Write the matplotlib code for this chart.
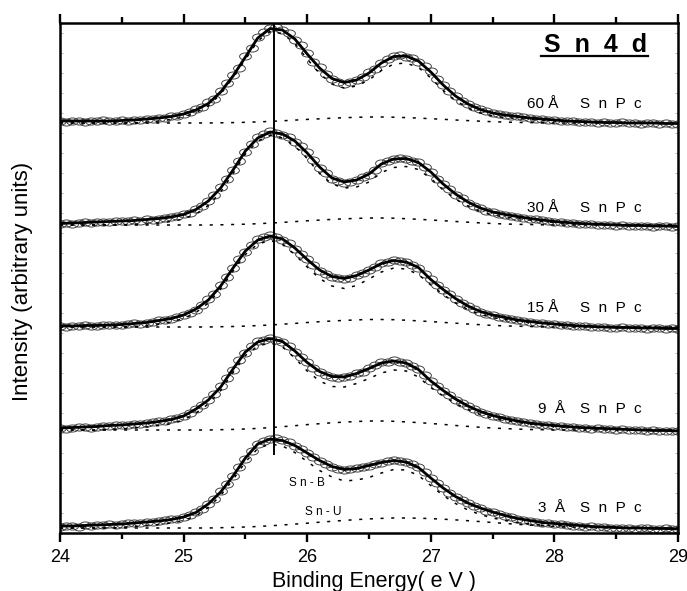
import numpy as np
import matplotlib
matplotlib.use("Agg")
import matplotlib.pyplot as plt
from matplotlib.lines import Line2D
from matplotlib.path import Path
from matplotlib.ticker import MultipleLocator, NullLocator
from matplotlib.transforms import IdentityTransform

plt.rcParams["font.family"] = ["Liberation Sans", "DejaVu Sans"]

# binding energy grids (eV): fit and components every 0.1 eV, measured points every 0.05 eV
energy = np.linspace(24.0, 29.0, 51)
energy_pts = np.linspace(24.0, 29.0, 101)

# SnPc coverage (Angstrom), bottom to top, and vertical stacking offsets (arb. units)
thickness = ["3", "9", "15", "30", "60"]
offsets = [5, 103, 206, 308, 410]

# ---- 3 A ----
fit_3 = [2, 2, 2.5, 3, 3.5, 4, 5, 6, 7, 8.5,
         11, 15.5, 24, 36, 52, 70, 84, 89, 87.5, 82.5,
         75, 67.5, 61.5, 58.5, 59.5, 62.5, 65.5, 67.5, 66, 60.5,
         50, 40, 31.5, 25, 20, 16, 12.5, 9.5, 7.5, 5.5,
         4.5, 3.5, 2.5, 1.5, 1, 0.5, 0, 0, -0.5, -0.5,
         -1]
snb_3 = [0, 0, 0, 0, 0, 0.5, 1.5, 2.5, 3.5, 5,
         7.5, 12, 20.5, 32.5, 48.5, 66, 79.5, 84, 82, 75.5,
         66.5, 57.5, 51, 47, 48, 50.5, 55, 58.5, 58, 52.5,
         42.5, 32.5, 24.5, 18, 13.5, 10, 7.5, 5.5, 4, 3,
         2.5, 2, 1.5, 1, 0.5, 0, 0, 0, 0, 0,
         0]
snu_3 = [0, 0, 0, 0, 0, 0, 0, 0, 0, 0,
         0, 0, 0, 0.3, 0.6, 1.0, 1.5, 2.2, 3.0, 3.9,
         4.8, 5.8, 6.7, 7.6, 8.4, 9.1, 9.6, 10.0, 10.0, 9.8,
         9.4, 8.8, 8.1, 7.3, 6.4, 5.5, 4.6, 3.7, 2.9, 2.2,
         1.6, 1.1, 0.7, 0.4, 0.2, 0, 0, 0, 0, 0,
         0]
data_3 = [1.5, 2.5, 2, 1.5, 3, 2.5, 3.5, 3, 4, 3.5,
          4.5, 5, 5.5, 5, 6.5, 6, 7.5, 8, 9, 9.5,
          11.5, 13, 16, 19.5, 24.5, 29, 37, 44, 52.5, 61,
          69, 77.5, 84, 87.5, 89.5, 90, 88, 86, 82, 79.5,
          75.5, 71, 67, 64, 61, 59.5, 58, 59, 60, 61,
          62, 64, 65, 67, 68, 67.5, 66.5, 64, 61, 56,
          50.5, 45, 40.5, 35, 31, 28, 25.5, 22, 20.5, 17.5,
          16.5, 14, 12.5, 11, 9, 8.5, 7.5, 6, 5.5, 5,
          4, 4, 3.5, 2.5, 2.5, 1.5, 2, 1, 1, 0.5,
          0.5, 0, 0.5, -0.5, 0, 0, -1, -0.5, 0, -0.5,
          -1]

# ---- 9 A ----
fit_9 = [2, 2.5, 3, 3.5, 4.5, 5, 6, 7, 8.5, 10.5,
         14, 21, 30, 43, 61, 78, 88, 91.5, 88.5, 79,
         67.5, 58.5, 53.5, 53, 56.5, 61.5, 67, 69, 67, 60.5,
         49, 39.5, 31, 24, 18.5, 14.5, 11.5, 9, 7, 5.5,
         4.5, 3.5, 2.5, 2, 1.5, 1, 0.5, 0, -0.5, -0.5,
         -1]
snb_9 = [0, 0, 0, 0, 0.5, 1, 2, 3, 4.5, 6.5,
         10, 17, 26, 39.5, 57.5, 74.5, 84, 87, 83, 72,
         59, 49, 43.5, 43, 46.5, 51.5, 57, 60, 59, 53,
         42.5, 34, 26.5, 20.5, 15.5, 12, 9.5, 7.5, 6, 4.5,
         3.5, 2.5, 2, 1.5, 1, 0.5, 0, 0, 0, 0,
         0]
snu_9 = [0, 0, 0, 0, 0, 0, 0, 0, 0, 0,
         0, 0, 0, 0.3, 0.6, 1.0, 1.6, 2.4, 3.3, 4.3,
         5.4, 6.3, 7.2, 7.9, 8.5, 9.0, 9.0, 8.7, 8.1, 7.4,
         6.5, 5.6, 4.5, 3.6, 2.7, 2.0, 1.4, 0.9, 0.5, 0.3,
         0, 0, 0, 0, 0, 0, 0, 0, 0, 0,
         0]
data_9 = [2.5, 1.5, 2, 3, 3.5, 2.5, 3, 4.5, 4, 5,
          5.5, 5, 6.5, 6, 7, 8, 9, 9, 11, 12,
          14.5, 17, 21.5, 25, 30.5, 36, 44, 52, 60, 70,
          77, 84, 89, 90, 92.5, 90.5, 88, 84, 78.5, 73,
          68, 62, 58, 55, 53, 52, 53.5, 54, 57, 58.5,
          62, 65, 68, 68, 70, 68.5, 67, 64, 61, 55,
          49.5, 44, 39, 35.5, 30.5, 27.5, 24.5, 21, 18, 16.5,
          14.5, 13, 11, 10.5, 9, 8, 7.5, 6, 5, 5,
          4, 4, 3, 3, 2.5, 2, 1.5, 2, 1, 1.5,
          0.5, 1, 0, 0.5, 0, -0.5, 0, -1, -0.5, -0.5,
          -1]

# ---- 15 A ----
fit_15 = [1, 1, 1.5, 1.5, 2, 2.5, 3.5, 4.5, 6.5, 8.5,
          12, 18, 27, 41, 59, 76, 87, 91, 88, 79,
          67.5, 57, 50.5, 48.5, 51.5, 57, 63.5, 66.5, 65, 59.5,
          47.5, 37.5, 28.5, 21, 15.5, 12, 9.5, 7, 5.5, 4,
          3, 2, 1, 0.5, 0, -0.5, -0.5, -1, -1, -1.5,
          -1.5]
snb_15 = [0, 0, 0, 0, 0, 0, 0.5, 1.5, 3, 5,
          8.5, 14.5, 24, 38, 56, 72.5, 83, 86.5, 82.5, 72.5,
          60, 48.5, 41, 38.5, 41.5, 48, 55, 59, 58, 52.5,
          42, 32.5, 24, 17.5, 12.5, 9.5, 7.5, 5.5, 4.5, 3.5,
          2.5, 1.5, 1, 0.5, 0, 0, 0, 0, 0, 0,
          0]
snu_15 = [0, 0, 0, 0, 0, 0, 0, 0, 0, 0,
          0, 0, 0, 0.3, 0.5, 0.9, 1.4, 2.0, 2.8, 3.6,
          4.5, 5.3, 6.0, 6.6, 7.1, 7.5, 7.5, 7.3, 6.8, 6.1,
          5.4, 4.6, 3.8, 3.0, 2.3, 1.6, 1.1, 0.8, 0.5, 0.2,
          0, 0, 0, 0, 0, 0, 0, 0, 0, 0,
          0]
data_15 = [1.5, 0.5, 1, 1.5, 2, 1, 1.5, 2, 2.5, 2,
           2, 3, 4, 3.5, 4, 5.5, 7, 7, 8, 10,
           12.5, 14.5, 17.5, 22, 28, 33.5, 42, 50, 59.5, 68,
           75, 82, 88, 90, 92, 90, 87.5, 84, 78, 73.5,
           68, 62, 56.5, 53, 50, 49, 48, 49.5, 52, 54,
           57.5, 60, 64, 65, 67, 66.5, 65.5, 62.5, 59, 53,
           48, 42.5, 37, 33, 28, 24, 21.5, 18, 15.5, 13.5,
           12.5, 10.5, 9.5, 8, 7, 6.5, 5, 4.5, 4, 3.5,
           3, 2, 2.5, 1.5, 1, 1, 0.5, 0, 0.5, -0.5,
           -0.5, 0, -1, -0.5, -1, -1.5, -0.5, -1, -1.5, -1,
           -1.5]

# ---- 30 A ----
fit_30 = [1.5, 2, 2.5, 3, 3.5, 4, 4.5, 5.5, 6.5, 8,
          10.5, 15.5, 24, 37, 55, 74, 87, 93, 91, 84,
          72, 58, 47, 43, 45, 51, 61, 66, 66.5, 62.5,
          53, 41, 31, 23, 17, 13, 10.5, 8.5, 6.5, 5,
          3.5, 2.5, 1.5, 1, 0.5, 0, -0.5, -0.5, -1, -1,
          -1.5]
snb_30 = [0, 0, 0, 0, 0, 0, 0.5, 1, 2, 3.5,
          6, 11, 19.5, 33, 51.5, 71, 84, 89.5, 87, 79,
          66.5, 51.5, 41, 37, 38, 43, 52.5, 57.5, 58.5, 55.5,
          46.5, 35, 26, 19, 13.5, 10, 8, 6.5, 5, 3.5,
          2.5, 1.5, 1, 0.5, 0, 0, 0, 0, 0, 0,
          0]
snu_30 = [0, 0, 0, 0, 0, 0, 0, 0, 0, 0,
          0, 0, 0, 0.2, 0.5, 0.8, 1.3, 1.9, 2.6, 3.4,
          4.2, 4.9, 5.6, 6.2, 6.6, 7.0, 7.0, 6.8, 6.3, 5.7,
          5.0, 4.3, 3.5, 2.8, 2.1, 1.5, 1.0, 0.7, 0.5, 0.2,
          0, 0, 0, 0, 0, 0, 0, 0, 0, 0,
          0]
data_30 = [1, 2, 1.5, 2.5, 3, 2, 3.5, 3, 3, 4,
           4.5, 4, 5, 4.5, 6, 5.5, 6, 7.5, 8.5, 9,
           11, 12.5, 16, 19, 24.5, 30.5, 38, 46, 55.5, 64,
           73, 81.5, 88, 91, 94, 92.5, 90, 88, 83, 79,
           73, 65, 57.5, 52, 46, 44.5, 42.5, 43, 45.5, 48,
           50.5, 55, 62, 64.5, 66.5, 67.5, 66, 64.5, 63, 58,
           53.5, 46.5, 41.5, 36, 30, 27, 22.5, 19.5, 17.5, 14.5,
           13.5, 11.5, 10, 9.5, 8, 7.5, 6, 6, 5, 4,
           3, 3, 2, 2, 1.5, 1.5, 1, 0.5, 0, 0.5,
           -0.5, 0, -0.5, -1, -0.5, -1, -1.5, -0.5, -1, -1.5,
           -1]

# ---- 60 A ----
fit_60 = [2, 2, 2, 2, 2, 2.5, 3, 4, 5, 6.5,
          9, 13, 19.5, 31, 47, 66, 85, 94.5, 93, 84,
          69, 55, 44.5, 40.5, 43, 50, 60, 66.5, 67, 62,
          51, 38, 27, 19, 13.5, 10, 8, 6.5, 5, 4,
          3, 2, 1.5, 1, 0.5, 0.5, 0, 0, 0, -0.5,
          -0.5]
snb_60 = [0, 0, 0, 0, 0, 0, 0, 1, 2, 3.5,
          6, 10.5, 17, 29, 45, 63.5, 82, 91.5, 89.5, 79.5,
          64, 49.5, 39, 35, 37, 43, 52.5, 59, 60, 55.5,
          45, 32.5, 22.5, 15, 10, 7, 5.5, 4.5, 3.5, 2.5,
          2, 1.5, 1, 0.5, 0, 0, 0, 0, 0, 0,
          0]
snu_60 = [0, 0, 0, 0, 0, 0, 0, 0, 0, 0,
          0, 0, 0, 0.2, 0.4, 0.7, 1.1, 1.6, 2.2, 2.9,
          3.6, 4.2, 4.8, 5.3, 5.7, 6.0, 6.0, 5.8, 5.4, 4.9,
          4.3, 3.7, 3.0, 2.4, 1.8, 1.3, 0.9, 0.6, 0.4, 0.2,
          0, 0, 0, 0, 0, 0, 0, 0, 0, 0,
          0]
data_60 = [2.5, 1.5, 2, 2.5, 1.5, 2, 2.5, 3, 2, 2.5,
           3, 2.5, 3.5, 3, 4.5, 4, 5.5, 5.5, 7, 7.5,
           9.5, 11.5, 14, 16, 21, 24.5, 32, 40, 48.5, 55,
           67, 75, 86, 91, 95, 96.5, 93, 90, 83, 78,
           70, 61, 56, 49, 44, 41.5, 39, 41, 43.5, 46,
           51, 54.5, 60, 64, 67, 68, 66.5, 65.5, 61, 57,
           52, 44, 38.5, 32, 27.5, 22, 19.5, 16, 14, 12,
           10.5, 9, 8.5, 7, 7, 6, 5.5, 4, 4.5, 3.5,
           3, 2.5, 2, 2.5, 1.5, 1, 1.5, 0.5, 1, 0.5,
           0, 1, 0, 0.5, -0.5, 0.5, 0, -0.5, 0, -1,
           -0.5]

fits = [fit_3, fit_9, fit_15, fit_30, fit_60]
snb = [snb_3, snb_9, snb_15, snb_30, snb_60]
snu = [snu_3, snu_9, snu_15, snu_30, snu_60]
measured = [data_3, data_9, data_15, data_30, data_60]

# label heights (same units as offsets) and the Sn-B reference line
label_y = [25.5, 124, 225, 325.5, 428.5]
peak_line_energy = 25.73
peak_line_bottom = 78

# open "circles" in the original are slightly squashed ovals
circ = Path.unit_circle()
oval = Path(circ.vertices * np.array([1.0, 0.6]), circ.codes)

fig = plt.figure(figsize=(6.87, 5.91), dpi=100)
ax = fig.add_axes([60 / 687, 58 / 591, 618 / 687, 510 / 591])

dash = (0, (2, 5))
for off, fit, b, u, pts in zip(offsets, fits, snb, snu, measured):
    off_pts = off + np.array(pts)
    ax.plot(energy_pts, off_pts, ls="none", marker=oval, ms=8.5, mfc="none",
            mec="#444444", mew=0.7, zorder=2)
    ax.plot(energy, off + np.array(b), color="black", lw=1.1, ls=dash, zorder=3)
    ax.plot(energy, off + np.array(u), color="black", lw=1.1, ls=dash, zorder=3)
    ax.plot(energy, off + np.array(fit), color="black", lw=2.0, zorder=4)

ax.vlines(peak_line_energy, peak_line_bottom, 510, color="black", lw=1.4, zorder=5)

for t, y in zip(thickness, label_y):
    if len(t) == 2:
        ax.text(27.778, y, f"{t} Å", fontsize=11, ha="left", va="center")
    else:
        ax.text(27.867, y, f"{t}  Å", fontsize=11, ha="left", va="center")
    ax.text(28.207, y, "S  n  P  c", fontsize=11, ha="left", va="center")

ax.text(26.0, 50.5, "S n - B", fontsize=8.5, ha="center", va="center")
ax.text(26.13, 21, "S n - U", fontsize=8.5, ha="center", va="center")

title = ax.text(28.33, 488, "S  n  4  d", fontsize=18, fontweight="bold",
                ha="center", va="center")

ax.set_xlim(24, 29)
ax.set_ylim(0, 510)
ax.xaxis.set_major_locator(MultipleLocator(1))
ax.xaxis.set_minor_locator(MultipleLocator(0.5))
ax.yaxis.set_major_locator(NullLocator())
ax.yaxis.set_minor_locator(MultipleLocator(20))
ax.tick_params(axis="x", which="both", direction="out", top=True, bottom=True,
               width=1.7, labelsize=13, pad=5)
ax.tick_params(axis="x", which="major", length=6.5)
ax.tick_params(axis="x", which="minor", length=4)
ax.tick_params(axis="y", which="both", direction="in", left=True, right=True,
               length=2.5, width=0.5, color="0.6", labelleft=False)
for s in ax.spines.values():
    s.set_linewidth(1.8)

fig.text(374 / 687, 1 - 581 / 591, "Binding Energy( e V )", fontsize=15.5,
         ha="center", va="center")
fig.text(23 / 687, 1 - 281 / 591, "Intensity (arbitrary units)", fontsize=16,
         rotation=90, ha="center", va="center")

# underline the Sn 4d title
fig.canvas.draw()
bb = title.get_window_extent()
fig.add_artist(Line2D([bb.x0 - 3, bb.x1 + 1], [bb.y0 + 1, bb.y0 + 1],
                      transform=IdentityTransform(), color="black", lw=1.6))

fig.savefig("out.png", dpi=100)
